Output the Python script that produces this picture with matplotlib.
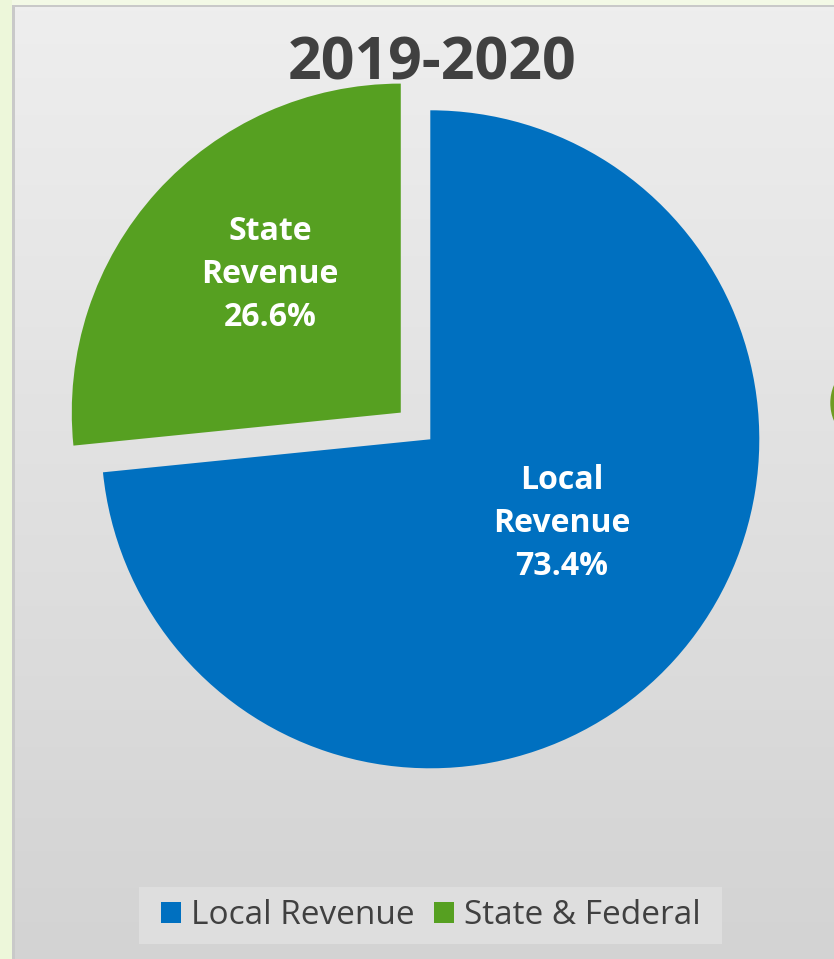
import numpy as np
import matplotlib
matplotlib.use("Agg")
import matplotlib.pyplot as plt
from matplotlib.patches import Rectangle, Circle

plt.rcParams['font.family'] = ['Open Sans', 'DejaVu Sans']

# data
title = '2019-2020'
categories = ['Local Revenue', 'State & Federal']
slice_labels = ['Local\nRevenue', 'State\nRevenue']
shares = [73.4, 26.6]
colors = ['#0070c0', '#56a021']
explode = [0.0, 0.121]   # fraction of the radius

W, H = 834, 959
fig = plt.figure(figsize=(W / 100, H / 100), dpi=100)
fig.patch.set_facecolor('#f3f9e6')
ax = fig.add_axes([0, 0, 1, 1])

# grey panel with vertical gradient
grad = np.linspace(0, 1, 256).reshape(-1, 1)
cmap = matplotlib.colors.LinearSegmentedColormap.from_list('bg', ['#eeeeee', '#d3d3d3'])
ax.imshow(grad, extent=[15, W, 0, H - 7], cmap=cmap, aspect='auto', origin='upper', zorder=0)
ax.add_patch(Rectangle((0, 0), 12, H, color='#edf7da', zorder=0.5, lw=0))
ax.add_patch(Rectangle((12, 0), 3, H - 5, color='#c9c9c9', zorder=0.6, lw=0))
ax.add_patch(Rectangle((12, H - 7), W, 2, color='#c9c9c9', zorder=0.6, lw=0))

# next chart peeking in at the right edge
ax.add_patch(Circle((876, H - 403), 45, color='#6f9c22', zorder=1))

# pie (matplotlib's explode is in data units, so scale by the radius)
cx, cy, R = 430.3, H - 439.3, 329
wedges, _ = ax.pie(shares, colors=colors, explode=[e * R for e in explode],
                   startangle=90, counterclock=False, center=(cx, cy), radius=R,
                   wedgeprops=dict(linewidth=0), frame=True)
for w in wedges:
    w.set_zorder(2)

# slice labels, placed from the wedge geometry
lbl_frac = [0.476, 0.577]
lbl_turn = [9.4, -4.4]
for w, name, val, f, t in zip(wedges, slice_labels, shares, lbl_frac, lbl_turn):
    mid = np.deg2rad((w.theta1 + w.theta2) / 2 + t)
    x0, y0 = w.center
    ax.text(x0 + f * w.r * np.cos(mid), y0 + f * w.r * np.sin(mid),
            f'{name}\n{val:.1f}%', ha='center', va='center', color='white',
            fontsize=23, fontweight='bold', linespacing=1.4, zorder=3)

ax.text(432.5, H - 79, title, ha='center', va='baseline', fontsize=42.5,
        fontweight='bold', color='#404040', zorder=3)

# legend
ax.add_patch(Rectangle((139, H - 944), 583, 57, color='#dedede', lw=0, zorder=1))
leg = ax.legend(wedges, categories, ncol=2, loc='center', frameon=False,
                bbox_to_anchor=(431, H - 916), bbox_transform=ax.transData,
                borderpad=0, borderaxespad=0, fontsize=24,
                handlelength=0.58, handleheight=0.58, handletextpad=0.3,
                columnspacing=0.6)
for t in leg.get_texts():
    t.set_color('#404040')
leg.set_zorder(4)

ax.set_xlim(0, W)
ax.set_ylim(0, H)
ax.set_aspect('auto')
ax.axis('off')

fig.savefig('out.png', dpi=100, facecolor=fig.get_facecolor())
